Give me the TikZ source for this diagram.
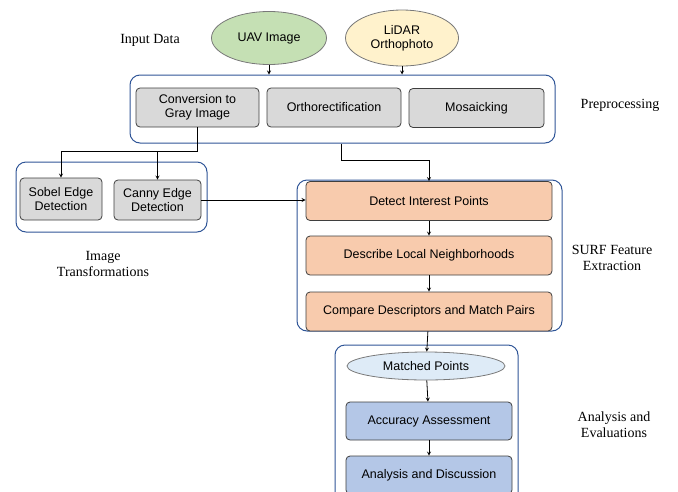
\documentclass[tikz,border=0pt]{standalone}
\usepackage{fontspec}
\setmainfont{Liberation Serif}
\newfontfamily\boxfont{Liberation Sans}
\usepackage{xcolor}
\usetikzlibrary{shapes,arrows,positioning,shapes.geometric}

\definecolor{groupblue}{HTML}{2F5597}
\definecolor{boxline}{HTML}{3F3F3F}
\definecolor{uavgreen}{HTML}{C5E0B4}
\definecolor{lidaryellow}{HTML}{FFF2CC}
\definecolor{stepgray}{HTML}{D9D9D9}
\definecolor{surforange}{HTML}{F8CBAD}
\definecolor{matchblue}{HTML}{DEEBF7}
\definecolor{evalblue}{HTML}{B4C7E7}

\begin{document}
\begin{tikzpicture}[x=1pt, y=-1pt, >=stealth,
    every node/.style={inner sep=0pt, align=center},
    group/.style={draw=groupblue, line width=1pt, rounded corners=10pt},
    stepbox/.style={draw=boxline, line width=0.8pt, rounded corners=4pt,
        font=\boxfont\fontsize{12.5}{14}\selectfont},
    oval/.style={draw=boxline!70, line width=0.8pt, ellipse,
        font=\boxfont\fontsize{12.5}{14}\selectfont},
    label/.style={font=\fontsize{14}{16}\selectfont},
    link/.style={->, line width=0.8pt}]

    \useasboundingbox (0,0) rectangle (678,491);
    \clip (0,0) rectangle (678,491);

    % containers
    \node (pre) [group, minimum width=425pt, minimum height=68pt] at (342.5,109) {};
    \node (trans) [group, minimum width=191pt, minimum height=70pt] at (111.5,197) {};
    \node (surf) [group, minimum width=265pt, minimum height=151pt] at (429.5,255.5) {};
    \node (eval) [group, minimum width=183pt, minimum height=160pt] at (426.5,425) {};

    % input data
    \node (uav) [oval, fill=uavgreen, minimum width=115pt, minimum height=53pt] at (269,38) {UAV Image};
    \node (lidar) [oval, fill=lidaryellow, minimum width=113pt, minimum height=56pt] at (402,38) {LiDAR\\Orthophoto};

    % preprocessing
    \node (gray) [stepbox, fill=stepgray, minimum width=123pt, minimum height=39pt] at (197.5,107.5) {Conversion to\\Gray Image};
    \node (ortho) [stepbox, fill=stepgray, minimum width=134pt, minimum height=39pt] at (334,107.5) {Orthorectification};
    \node (mosaic) [stepbox, fill=stepgray, minimum width=135pt, minimum height=39pt] at (476.5,108) {Mosaicking};

    % image transformations
    \node (sobel) [stepbox, fill=stepgray, minimum width=82pt, minimum height=42pt] at (61,199) {Sobel Edge\\Detection};
    \node (canny) [stepbox, fill=stepgray, minimum width=87pt, minimum height=40pt] at (157.5,200) {Canny Edge\\Detection};

    % SURF
    \node (detect) [stepbox, fill=surforange, minimum width=246pt, minimum height=39pt] at (429,201) {Detect Interest Points};
    \node (describe) [stepbox, fill=surforange, minimum width=246pt, minimum height=39pt] at (429,255.5) {Describe Local Neighborhoods};
    \node (compare) [stepbox, fill=surforange, minimum width=246pt, minimum height=39pt] at (429,311.5) {Compare Descriptors and Match Pairs};

    % analysis
    \node (matched) [oval, fill=matchblue, minimum width=158pt, minimum height=28pt] at (426,366) {Matched Points};
    \node (accuracy) [stepbox, fill=evalblue, minimum width=166pt, minimum height=38pt] at (429,421) {Accuracy Assessment};
    \node (discussion) [stepbox, fill=evalblue, minimum width=166pt, minimum height=38pt] at (429,475) {Analysis and Discussion};

    % side labels
    \node (inlabel) [label] at (150,40) {Input Data};
    \node (prelabel) [label] at (620,105) {Preprocessing};
    \node (translabel) [label] at (103,264) {Image\\Transformations};
    \node (surflabel) [label] at (612,258) {SURF Feature\\Extraction};
    \node (evallabel) [label] at (614,425) {Analysis and\\Evaluations};

    % connectors
    \draw[link] (uav) -- (uav |- pre.north);
    \draw[link] (lidar) -- (lidar |- pre.north);
    \draw[link] (gray.south) -- ++(0,24) -| (sobel.north);
    \draw[link] (gray.south) -- ++(0,24) -| (canny.north);
    \draw[link] ([xshift=7pt]ortho.south |- pre.south) -- ++(0,17) -| (detect.north);
    \draw[link] (canny.east) -- (canny.east -| detect.west);
    \draw[link] (detect) -- (describe);
    \draw[link] (describe) -- (compare);
    \draw[link] (compare) -- (matched);
    \draw[link] (matched) -- (accuracy);
    \draw[link] (accuracy) -- (discussion);

\end{tikzpicture}
\end{document}
